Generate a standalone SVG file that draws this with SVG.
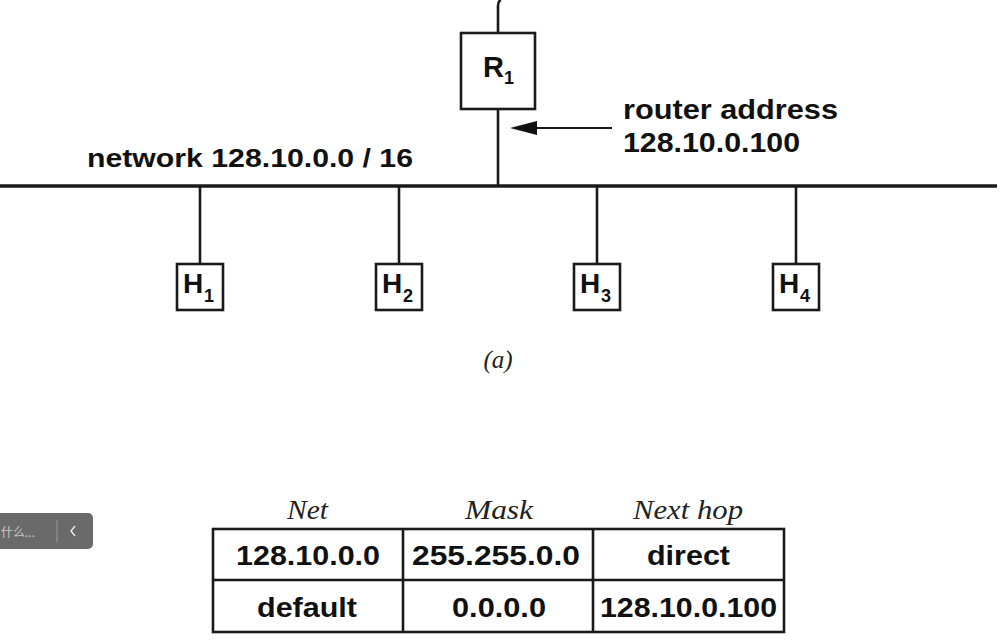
<svg xmlns="http://www.w3.org/2000/svg" width="1005" height="642" viewBox="0 0 1005 642">
<style>
.ln{stroke:#1a1a1a;fill:none;stroke-width:2.6}
.box{stroke:#1a1a1a;fill:#fff;stroke-width:2.6}
.b{font-family:"Liberation Sans",Arial,sans-serif;font-weight:bold;fill:#111}
.i{font-family:"Liberation Serif","Times New Roman",serif;font-style:italic;fill:#222}
.sub{font-family:"Liberation Sans",Arial,sans-serif;font-weight:bold;fill:#111;font-size:18px}
</style>
<rect width="1005" height="642" fill="#fff"/>
<g id="connectors">
<path class="ln" d="M498,33 L498,6 Q498,1 501,0"/>
<line class="ln" x1="498" y1="109" x2="498" y2="186"/>
<line class="ln" x1="0" y1="186" x2="997" y2="186" style="stroke-width:3.4"/>
<line class="ln" x1="200" y1="186" x2="200" y2="264"/>
<line class="ln" x1="399" y1="186" x2="399" y2="264"/>
<line class="ln" x1="597" y1="186" x2="597" y2="264"/>
<line class="ln" x1="796" y1="186" x2="796" y2="264"/>
<line x1="612" y1="128" x2="536" y2="128" stroke="#1a1a1a" stroke-width="2"/>
<path d="M510,128 L537,121 L537,135 Z" fill="#111"/>
</g>
<g id="R1">
<rect class="box" x="461" y="33" width="74" height="76"/>
<text class="b" x="483" y="77" font-size="29">R</text>
<text class="sub" x="504" y="84">1</text>
</g>
<g id="router-label">
<text class="b" x="623" y="119" font-size="27" textLength="215" lengthAdjust="spacingAndGlyphs">router address</text>
<text class="b" x="623" y="152" font-size="27" textLength="177" lengthAdjust="spacingAndGlyphs">128.10.0.100</text>
</g>
<g id="network-label">
<text class="b" x="87" y="167" font-size="25" textLength="326" lengthAdjust="spacingAndGlyphs">network 128.10.0.0 / 16</text>
</g>
<g id="H1">
<rect class="box" x="177" y="264" width="46" height="46"/>
<text class="b" x="183" y="293" font-size="28">H</text>
<text class="sub" x="204" y="302">1</text>
</g>
<g id="H2">
<rect class="box" x="376" y="264" width="46" height="46"/>
<text class="b" x="382" y="293" font-size="28">H</text>
<text class="sub" x="403" y="302">2</text>
</g>
<g id="H3">
<rect class="box" x="574" y="264" width="46" height="46"/>
<text class="b" x="580" y="293" font-size="28">H</text>
<text class="sub" x="601" y="302">3</text>
</g>
<g id="H4">
<rect class="box" x="773" y="264" width="46" height="46"/>
<text class="b" x="779" y="293" font-size="28">H</text>
<text class="sub" x="800" y="302">4</text>
</g>
<g id="caption">
<text class="i" x="498" y="368" font-size="25" text-anchor="middle">(a)</text>
</g>
<g id="table">
<text class="i" x="287" y="519" font-size="27" textLength="41" lengthAdjust="spacingAndGlyphs">Net</text>
<text class="i" x="465" y="519" font-size="27" textLength="68" lengthAdjust="spacingAndGlyphs">Mask</text>
<text class="i" x="633" y="519" font-size="27" textLength="110" lengthAdjust="spacingAndGlyphs">Next hop</text>
<rect class="box" x="213" y="529" width="571" height="103"/>
<line class="ln" x1="213" y1="580" x2="784" y2="580"/>
<line class="ln" x1="403" y1="529" x2="403" y2="632"/>
<line class="ln" x1="593" y1="529" x2="593" y2="632"/>
<text class="b" x="236" y="565" font-size="27" textLength="144" lengthAdjust="spacingAndGlyphs">128.10.0.0</text>
<text class="b" x="412" y="565" font-size="27" textLength="168" lengthAdjust="spacingAndGlyphs">255.255.0.0</text>
<text class="b" x="647" y="565" font-size="27" textLength="83" lengthAdjust="spacingAndGlyphs">direct</text>
<text class="b" x="257" y="617" font-size="27" textLength="100" lengthAdjust="spacingAndGlyphs">default</text>
<text class="b" x="452" y="617" font-size="27" textLength="94" lengthAdjust="spacingAndGlyphs">0.0.0.0</text>
<text class="b" x="600" y="617" font-size="27" textLength="177" lengthAdjust="spacingAndGlyphs">128.10.0.100</text>
</g>
<g id="overlay">
<rect x="-8" y="513" width="101" height="36" rx="5" fill="#6a6a6a"/>
<text x="1" y="537" font-size="12" fill="#c8c8c8" font-family="'Noto Sans CJK SC','Noto Sans',sans-serif">什么...</text>
<line x1="57" y1="520" x2="57" y2="542" stroke="#9a9a9a" stroke-width="1"/>
<polyline points="75,526 71,531 75,536" fill="none" stroke="#eee" stroke-width="1.4"/>
</g>
</svg>
